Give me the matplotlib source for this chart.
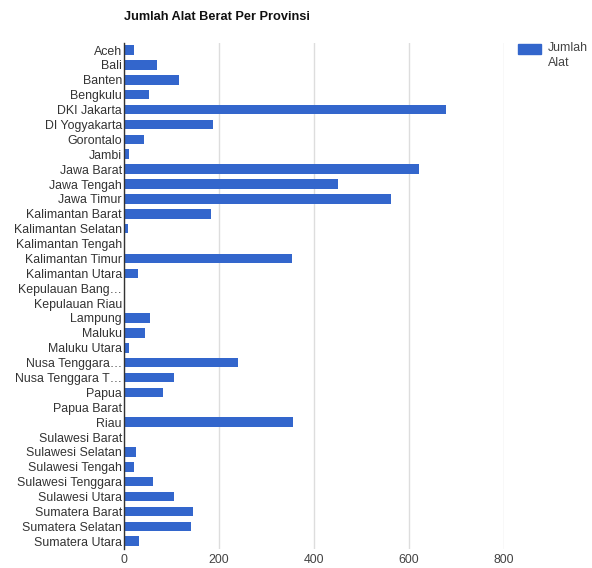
import matplotlib
matplotlib.use('Agg')
import matplotlib.pyplot as plt
from matplotlib.patches import Rectangle

plt.rcParams['font.family'] = ['Liberation Sans', 'DejaVu Sans']

provinsi = ['Aceh', 'Bali', 'Banten', 'Bengkulu', 'DKI Jakarta', 'DI Yogyakarta',
            'Gorontalo', 'Jambi', 'Jawa Barat', 'Jawa Tengah', 'Jawa Timur',
            'Kalimantan Barat', 'Kalimantan Selatan', 'Kalimantan Tengah',
            'Kalimantan Timur', 'Kalimantan Utara', 'Kepulauan Bang\u2026',
            'Kepulauan Riau', 'Lampung', 'Maluku', 'Maluku Utara',
            'Nusa Tenggara\u2026', 'Nusa Tenggara T\u2026', 'Papua', 'Papua Barat',
            'Riau', 'Sulawesi Barat', 'Sulawesi Selatan', 'Sulawesi Tengah',
            'Sulawesi Tenggara', 'Sulawesi Utara', 'Sumatera Barat',
            'Sumatera Selatan', 'Sumatera Utara']
jumlah_alat = [22, 69, 115, 52, 678, 188,
               41, 11, 620, 451, 563,
               183, 8, 3,
               354, 29, 0,
               0, 54, 45, 11,
               240, 105, 83, 0,
               356, 3, 26, 22,
               61, 105, 146,
               141, 32]
x_ticks = [0, 200, 400, 600, 800]

fig = plt.figure(figsize=(5.92, 5.68), dpi=100)
ax = fig.add_axes([0.2095, 0.034, 0.642, 0.891])

ypos = list(range(len(provinsi)))
ax.barh(ypos, jumlah_alat, height=0.64, color='#3366cc', zorder=3)
ax.set_ylim(len(provinsi) - 0.5, -0.5)
ax.set_xlim(0, 800)
ax.set_yticks(ypos)
ax.set_yticklabels(provinsi, fontsize=8.9, color='#333333')
ax.set_xticks(x_ticks)
ax.set_xticklabels([str(t) for t in x_ticks], fontsize=8.9, color='#444444')
ax.tick_params(axis='both', length=0, pad=1.5)
ax.tick_params(axis='x', pad=4)
ax.grid(axis='x', color='#dddddd', linewidth=1, zorder=0)
for s in ['top', 'right', 'bottom']:
    ax.spines[s].set_visible(False)
ax.spines['left'].set_color('#333333')
ax.spines['left'].set_linewidth(1)
ax.spines['left'].set_zorder(4)

fig.text(124 / 592, 1 - 17 / 568, 'Jumlah Alat Berat Per Provinsi', fontsize=9.2,
         fontweight='bold', color='#111111', va='center', ha='left')

# legend, drawn by hand so the swatch sits beside the first line
fig.patches.append(Rectangle((518 / 592, 1 - 54 / 568), 23 / 592, 10 / 568,
                             transform=fig.transFigure, color='#3366cc'))
fig.text(548 / 592, 1 - 42 / 568, 'Jumlah\nAlat', fontsize=8.9, color='#444444',
         va='top', ha='left', linespacing=1.35)

fig.savefig('out.png', dpi=100)
